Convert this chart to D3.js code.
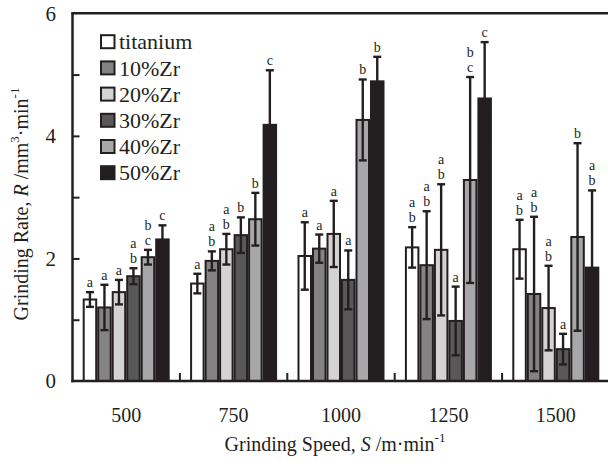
<!DOCTYPE html>
<html><head><meta charset="utf-8">
<script src="https://cdn.jsdelivr.net/npm/d3@7"></script>
<style>
body{margin:0;background:#fff;}
svg text{font-family:"Liberation Serif","Times New Roman",serif;}
</style></head>
<body><svg id="c" width="608" height="462"></svg>
<script>
const speeds = ["500","750","1000","1250","1500"];
const series = ["titanium","10%Zr","20%Zr","30%Zr","40%Zr","50%Zr"];
const colors = ["#ffffff","#838383","#d3d3d3","#585858","#a7a7a9","#231f20"];
// mean values per speed, in series order
const means = [
  [1.33,1.20,1.45,1.71,2.02,2.31],
  [1.59,1.96,2.15,2.38,2.64,4.18],
  [2.04,2.16,2.40,1.65,4.26,4.89],
  [2.18,1.89,2.14,0.98,3.28,4.61],
  [2.15,1.42,1.19,0.52,2.35,1.85]
];
const errors = [
  [0.12,0.37,0.20,0.13,0.12,0.23],
  [0.16,0.155,0.25,0.29,0.43,0.89],
  [0.55,0.23,0.54,0.48,0.66,0.40],
  [0.33,0.88,1.07,0.56,1.68,0.92],
  [0.48,1.26,0.69,0.25,1.53,1.26]
];
// significance letters, top-to-bottom
const letters = [
  ["a","a","a","ab","bc","c"],
  ["a","ab","ab","b","b","c"],
  ["a","a","a","a","b","b"],
  ["ab","ab","ab","a","bc","c"],
  ["ab","ab","ab","a","b","ab"]
];
const yTicks = [0,2,4,6];

const FONT = '"Liberation Serif","Times New Roman",serif';
const svg = d3.select("#c").attr("font-family",FONT);
const ink = "#231f20";
const L = 72.5, R = 609.5, T = 13.3, B = 381;

const x0 = d3.scaleBand().domain(speeds).range([L,R]).paddingInner(0.19).paddingOuter(0.095);
const x1 = d3.scaleBand().domain(series).range([0,x0.bandwidth()]);
const y = d3.scaleLinear().domain([0,6]).range([B,T]);

const data = [];
speeds.forEach((s,i)=>series.forEach((k,j)=>data.push({s,k,j,v:means[i][j],e:errors[i][j],l:letters[i][j]})));

// bars
svg.append("g").selectAll("rect").data(data).join("rect")
  .attr("x",d=>x0(d.s)+x1(d.k)+1)
  .attr("width",x1.bandwidth()-2)
  .attr("y",d=>y(d.v))
  .attr("height",d=>y(0)-y(d.v))
  .attr("fill",d=>colors[d.j])
  .attr("stroke",ink).attr("stroke-width",2);

// error bars
const eg = svg.append("g").attr("stroke",ink).attr("stroke-width",2.4);
const tg = svg.append("g").attr("font-family",FONT);
data.forEach(d=>{
  const cx = x0(d.s)+x1(d.k)+x1.bandwidth()/2;
  eg.append("line").attr("x1",cx).attr("x2",cx).attr("y1",y(d.v+d.e)).attr("y2",y(Math.max(0,d.v-d.e)));
  [d.v+d.e, d.v-d.e].forEach(t=>{
    eg.append("line").attr("x1",cx-4).attr("x2",cx+4).attr("y1",y(t)).attr("y2",y(t));
  });
  const chars = d.l.split("");
  chars.forEach((c,ci)=>{
    const fromBottom = chars.length-1-ci;
    tg.append("text").attr("x",cx).attr("y",y(d.v+d.e)-5-fromBottom*15)
      .attr("text-anchor","middle").attr("font-size",14).attr("fill",ink).text(c);
  });
});

// frame
const fr = svg.append("g").attr("stroke",ink).attr("stroke-width",2.5).attr("fill","none");
fr.append("line").attr("x1",L).attr("x2",L).attr("y1",T).attr("y2",B+1.2);
fr.append("line").attr("x1",L-1.2).attr("x2",610).attr("y1",B).attr("y2",B);
fr.append("line").attr("x1",L-1.2).attr("x2",610).attr("y1",T).attr("y2",T);

// y axis ticks (inside)
const yAxis = d3.axisRight(y).tickValues(d3.range(1,6)).tickSize(7).tickFormat("");
const ya = svg.append("g").attr("transform",`translate(${L},0)`).call(yAxis);
ya.select(".domain").remove();
ya.selectAll(".tick line").attr("stroke",ink).attr("stroke-width",2);
// y tick labels
svg.append("g").selectAll("text").data(yTicks).join("text")
  .attr("x",56).attr("y",d=>y(d)).attr("dy","0.35em").attr("text-anchor","end")
  .attr("font-family",FONT).attr("font-size",21).attr("fill",ink).text(d=>d);

// x ticks between groups (inside)
const bounds = speeds.slice(1).map(s=>x0(s)-x0.step()*x0.paddingInner()/2);
svg.append("g").selectAll("line").data(bounds).join("line")
  .attr("x1",d=>d).attr("x2",d=>d).attr("y1",B).attr("y2",B-8)
  .attr("stroke",ink).attr("stroke-width",2);

// x labels
const xAxis = d3.axisBottom(x0).tickSize(0).tickPadding(0);
const xa = svg.append("g").attr("transform",`translate(0,${B})`).call(xAxis);
xa.attr("font-family",FONT);
xa.select(".domain").remove();
xa.selectAll(".tick text").attr("y",41).attr("dy",0).attr("font-size",20)
  .attr("font-family",FONT).attr("fill",ink);

// axis titles
const xt = svg.append("text").attr("x",335).attr("y",451).attr("text-anchor","middle")
  .attr("font-family",FONT).attr("font-size",20).attr("fill",ink);
xt.append("tspan").text("Grinding Speed, ");
xt.append("tspan").attr("font-style","italic").text("S");
xt.append("tspan").text(" /m·min");
xt.append("tspan").attr("font-size",13).attr("dy",-9).text("-1");

const yt = svg.append("text").attr("transform","translate(28,204) rotate(-90)")
  .attr("text-anchor","middle").attr("font-family",FONT).attr("font-size",20).attr("fill",ink);
yt.append("tspan").text("Grinding Rate, ");
yt.append("tspan").attr("font-style","italic").text("R");
yt.append("tspan").text(" /mm");
yt.append("tspan").attr("font-size",13).attr("dy",-9).text("3");
yt.append("tspan").attr("dy",9).text("·min");
yt.append("tspan").attr("font-size",13).attr("dy",-9).text("-1");

// legend
const lg = svg.append("g").attr("font-family",FONT);
series.forEach((s,j)=>{
  const cy = 41.7 + j*26.2;
  lg.append("rect").attr("x",101).attr("y",cy-6.5).attr("width",13.5).attr("height",13)
    .attr("fill",colors[j]).attr("stroke",ink).attr("stroke-width",2);
  lg.append("text").attr("x",119).attr("y",cy).attr("dy","0.35em").attr("font-size",22)
    .attr("font-family",FONT).attr("fill",ink).text(s);
});
</script></body></html>
